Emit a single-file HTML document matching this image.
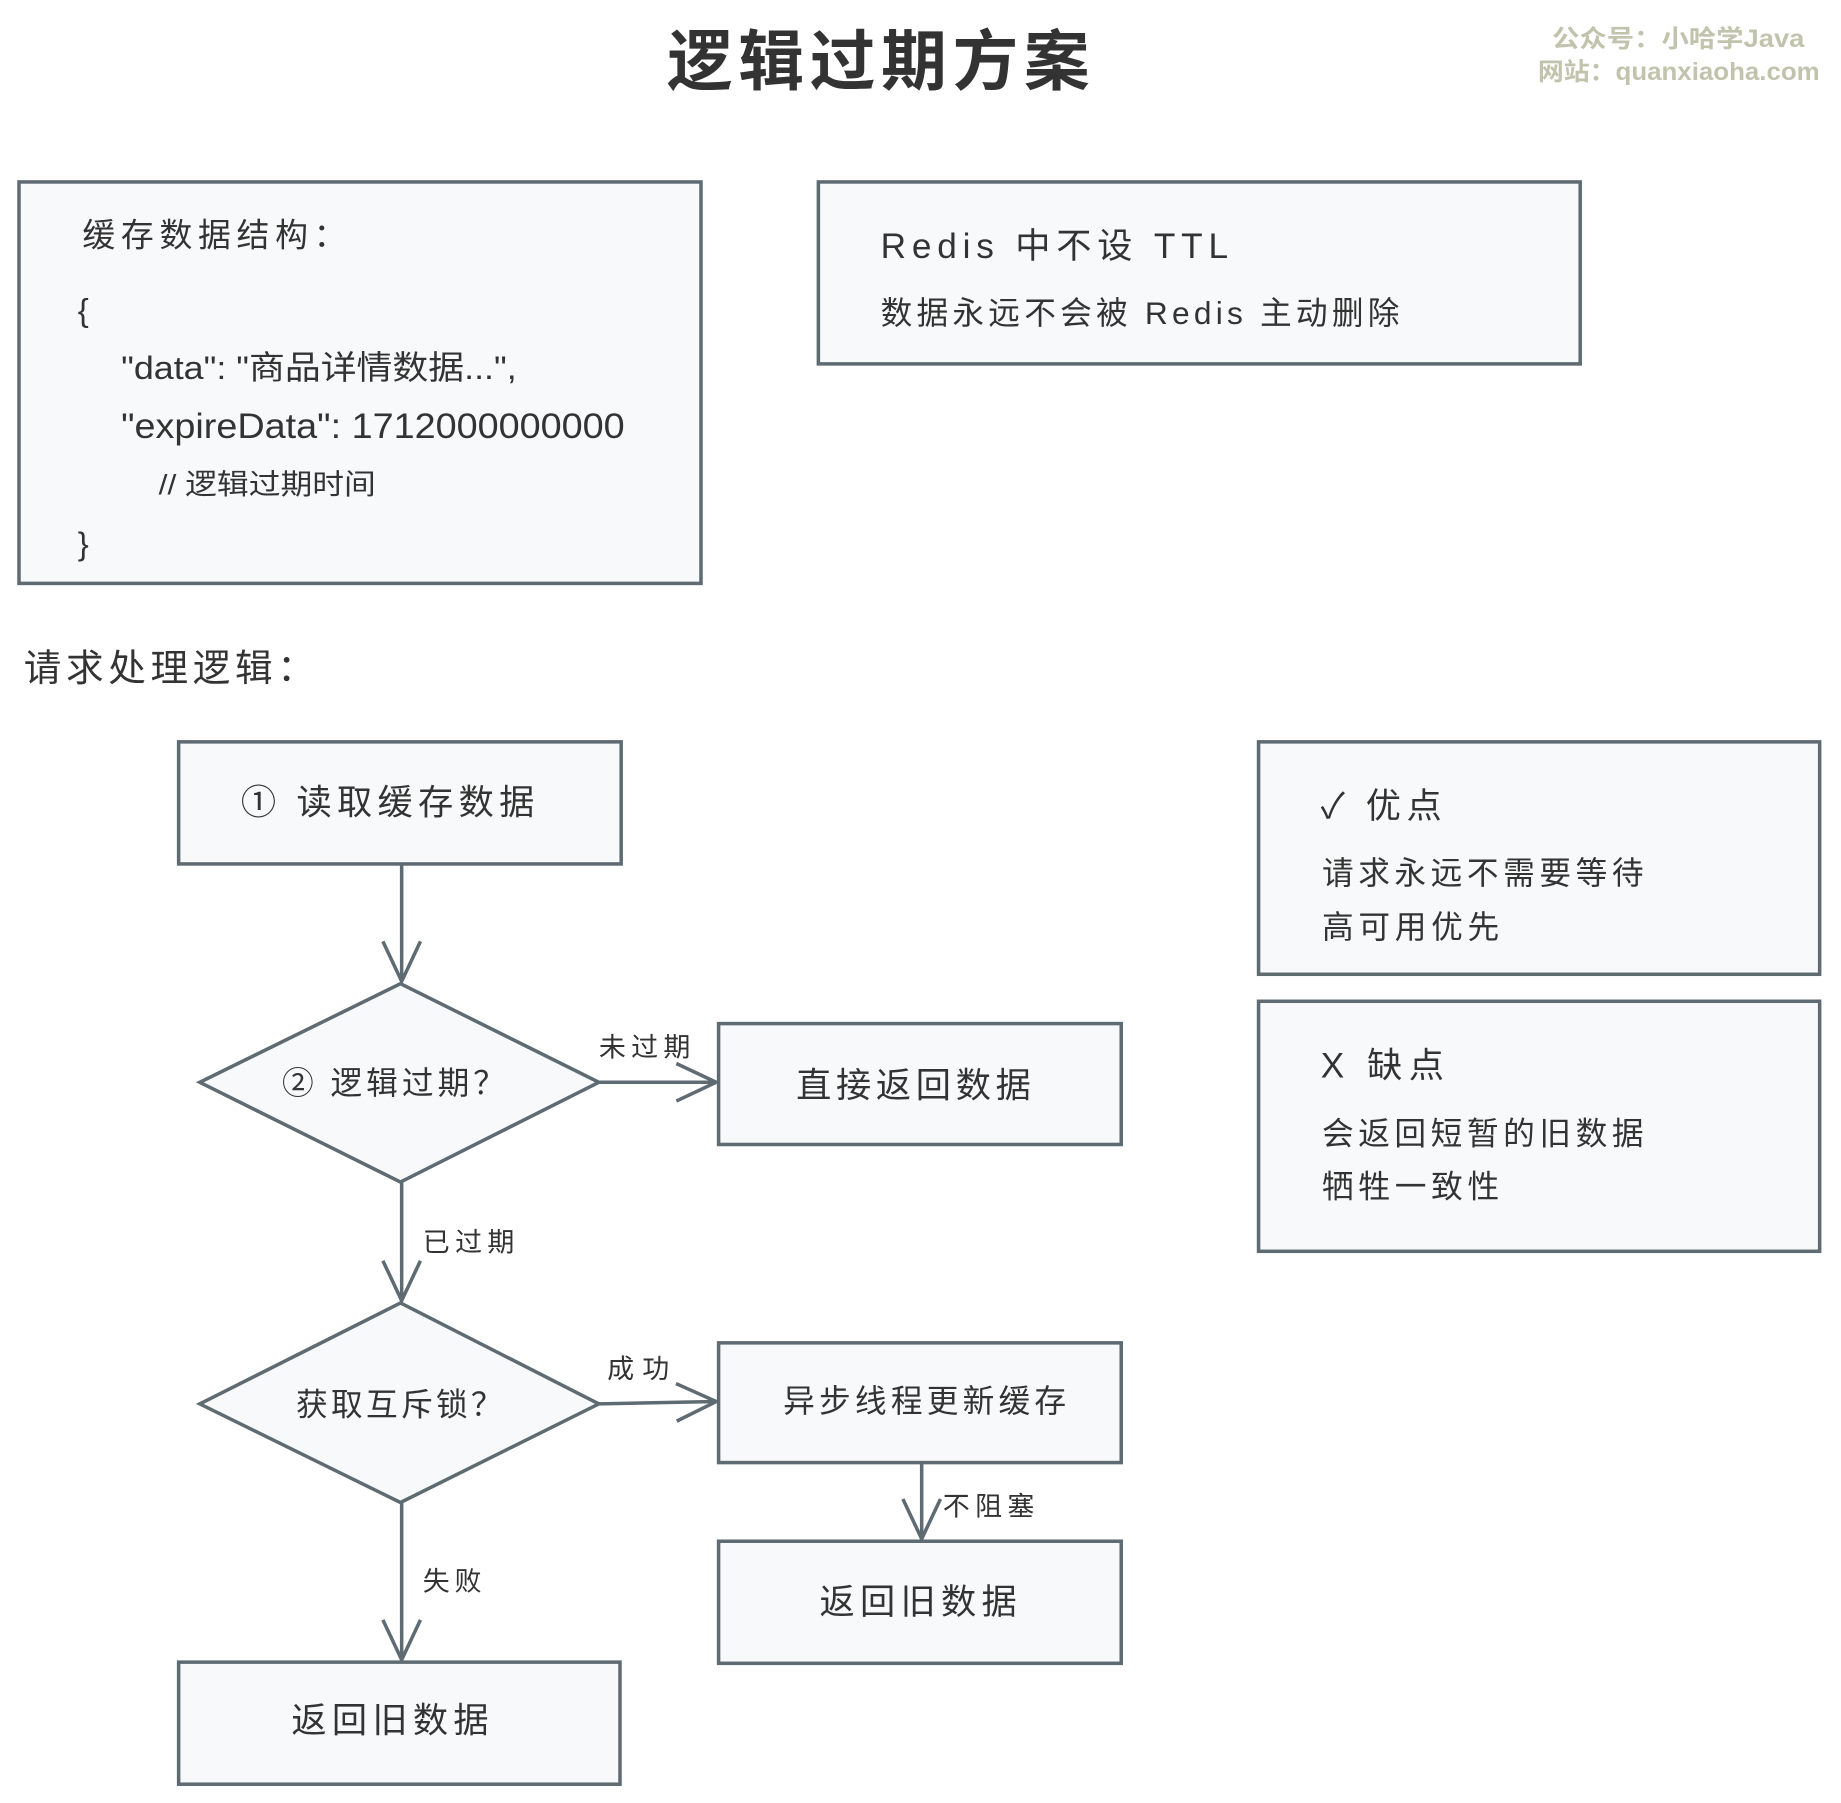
<!DOCTYPE html>
<html><head><meta charset="utf-8"><style>
html,body{margin:0;padding:0;background:#fff;}
svg{display:block;}
text{font-family:"Liberation Sans","Noto Sans CJK SC",sans-serif;fill:#333;}
</style></head><body>
<svg width="1841" height="1803" viewBox="0 0 1568 1536" xmlns="http://www.w3.org/2000/svg">
<defs>
<marker id="b" viewBox="0 0 40 40" refX="38" refY="20" markerWidth="40" markerHeight="40" markerUnits="userSpaceOnUse" orient="auto">
<path d="M4,4 L38,20 L4,36" fill="none" stroke="#5f6b73" stroke-width="3"/>
</marker>
</defs>
<rect width="1568" height="1536" fill="#fff"/>
<text x="568" y="72" font-size="56" font-weight="bold" textLength="360" lengthAdjust="spacing" fill="#333">逻辑过期方案</text>
<text x="1322" y="40" font-size="21" font-weight="bold" textLength="215" lengthAdjust="spacingAndGlyphs" style="fill:#c2c3ad">公众号：小哈学Java</text>
<text x="1310" y="68" font-size="21" font-weight="bold" textLength="240" lengthAdjust="spacingAndGlyphs" style="fill:#c2c3ad">网站：quanxiaoha.com</text>

<g fill="#f8f9fa" stroke="#5f6b73" stroke-width="3">
<rect x="16" y="155" width="581" height="342"/>
<rect x="697" y="155" width="649" height="155"/>
<rect x="152" y="632" width="377" height="104"/>
<polygon points="341,838 510,922 341,1007 170,922"/>
<rect x="612" y="872" width="343" height="103"/>
<polygon points="341,1110 510,1196 341,1280 170,1196"/>
<rect x="612" y="1144" width="343" height="102"/>
<rect x="612" y="1313" width="343" height="104"/>
<rect x="152" y="1416" width="376" height="104"/>
<rect x="1072" y="632" width="478" height="198"/>
<rect x="1072" y="853" width="478" height="213"/>
</g>

<text x="70" y="210" font-size="28" textLength="225" lengthAdjust="spacing">缓存数据结构：</text>
<text x="66" y="274" font-size="28">{</text>
<text x="103" y="323" font-size="28" fill="#555" textLength="337" lengthAdjust="spacingAndGlyphs">"data": "商品详情数据...",</text>
<text x="103" y="373" font-size="30" fill="#555" textLength="429" lengthAdjust="spacingAndGlyphs">"expireData": 1712000000000</text>
<text x="135" y="421" font-size="24" fill="#888" textLength="185" lengthAdjust="spacingAndGlyphs">// 逻辑过期时间</text>
<text x="66" y="473" font-size="28">}</text>

<text x="750" y="220" font-size="30" textLength="296" lengthAdjust="spacing">Redis 中不设 TTL</text>
<text x="750" y="276" font-size="27" fill="#444" textLength="442" lengthAdjust="spacing">数据永远不会被 Redis 主动删除</text>

<text x="20" y="580" font-size="32" textLength="248" lengthAdjust="spacing">请求处理逻辑：</text>

<text x="205" y="694" font-size="30" textLength="250" lengthAdjust="spacing">① 读取缓存数据</text>
<text x="240" y="932" font-size="27" textLength="190" lengthAdjust="spacing">② 逻辑过期？</text>
<text x="678" y="935" font-size="30" textLength="200" lengthAdjust="spacing">直接返回数据</text>
<text x="252" y="1206" font-size="27" textLength="176" lengthAdjust="spacing">获取互斥锁？</text>
<text x="667" y="1203" font-size="27" textLength="241" lengthAdjust="spacing">异步线程更新缓存</text>
<text x="698" y="1375" font-size="30" textLength="168" lengthAdjust="spacing">返回旧数据</text>
<text x="248" y="1476" font-size="30" textLength="168" lengthAdjust="spacing">返回旧数据</text>

<g stroke="#5f6b73" stroke-width="3" fill="none">
<line x1="342" y1="736" x2="342" y2="836" marker-end="url(#b)"/>
<line x1="510" y1="922" x2="610" y2="922" marker-end="url(#b)"/>
<line x1="342" y1="1007" x2="342" y2="1108" marker-end="url(#b)"/>
<line x1="510" y1="1196" x2="610" y2="1194" marker-end="url(#b)"/>
<line x1="785" y1="1246" x2="785" y2="1311" marker-end="url(#b)"/>
<line x1="342" y1="1280" x2="342" y2="1414" marker-end="url(#b)"/>
</g>
<g font-size="23">
<text x="510" y="900" fill="#777" textLength="78" lengthAdjust="spacing">未过期</text>
<text x="360" y="1066" fill="#777" textLength="78" lengthAdjust="spacing">已过期</text>
<text x="517" y="1174" fill="#777" textLength="53" lengthAdjust="spacing">成功</text>
<text x="803" y="1291" fill="#777" textLength="78" lengthAdjust="spacing">不阻塞</text>
<text x="360" y="1355" fill="#777" textLength="50" lengthAdjust="spacing">失败</text>
</g>

<text x="1125" y="697" font-size="30" textLength="103" lengthAdjust="spacing">✓ 优点</text>
<text x="1126" y="753" font-size="27" fill="#444" textLength="274" lengthAdjust="spacing">请求永远不需要等待</text>
<text x="1126" y="799" font-size="27" fill="#444" textLength="151" lengthAdjust="spacing">高可用优先</text>
<text x="1125" y="918" font-size="30" textLength="105" lengthAdjust="spacing">X 缺点</text>
<text x="1126" y="975" font-size="27" fill="#444" textLength="274" lengthAdjust="spacing">会返回短暂的旧数据</text>
<text x="1126" y="1020" font-size="27" fill="#444" textLength="151" lengthAdjust="spacing">牺牲一致性</text>
</svg>
</body></html>
